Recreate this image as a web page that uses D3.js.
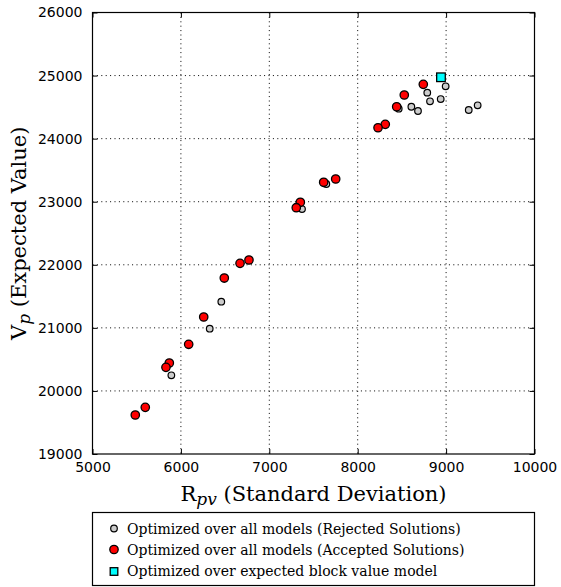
<!DOCTYPE html>
<html>
<head>
<meta charset="utf-8">
<script src="https://cdn.jsdelivr.net/npm/d3@7"></script>
<style>
  body { margin: 0; background: #fff; }
  svg { display: block; }
</style>
</head>
<body>
<svg id="chart" width="561" height="587"></svg>
<script>
// ---- data ----
const rejectedX = [8464, 8607, 8682, 8787, 8818, 8939, 8995, 9256, 9357, 7645, 7370, 6457, 6326, 5892];
const rejectedY = [24475, 24506, 24438, 24729, 24592, 24628, 24830, 24454, 24529, 23281, 22884, 21415, 20987, 20248];

const acceptedX = [8742, 8527, 8441, 8312, 8230, 7751, 7615, 7351, 7305, 6770, 6669, 6491, 6258, 6088, 5869, 5831, 5597, 5484];
const acceptedY = [24861, 24692, 24506, 24227, 24173, 23360, 23308, 22991, 22905, 22076, 22023, 21790, 21172, 20739, 20443, 20374, 19740, 19618];

const blockX = [8942];
const blockY = [24973];

const xTicks = [5000, 6000, 7000, 8000, 9000, 10000];
const yTicks = [19000, 20000, 21000, 22000, 23000, 24000, 25000, 26000];

const legendLabels = [
  "Optimized over all models (Rejected Solutions)",
  "Optimized over all models (Accepted Solutions)",
  "Optimized over expected block value model"
];

// ---- layout ----
const svg = d3.select("#chart");
const L = 92.5, R = 534.5, T = 12.5, B = 454;
const x = d3.scaleLinear().domain([5000, 10000]).range([L, R]);
const y = d3.scaleLinear().domain([19000, 26000]).range([B, T]);

const tickFont = "'DejaVu Sans', sans-serif";
const serif = "'DejaVu Serif', 'Liberation Serif', serif";

// grid
const grid = svg.append("g");
grid.selectAll("line.gx").data(xTicks.slice(1, -1)).enter().append("line")
  .attr("x1", d => x(d)).attr("x2", d => x(d)).attr("y1", T).attr("y2", B)
  .attr("stroke", "#000").attr("stroke-width", 1).attr("stroke-dasharray", "1,3.4");
grid.selectAll("line.gy").data(yTicks.slice(1, -1)).enter().append("line")
  .attr("y1", d => y(d)).attr("y2", d => y(d)).attr("x1", L).attr("x2", R)
  .attr("stroke", "#000").attr("stroke-width", 1).attr("stroke-dasharray", "1,3.4");

// axes (ticks inward on all sides)
const tickLen = 5;
const axB = svg.append("g").attr("transform", `translate(0,${B})`)
  .call(d3.axisBottom(x).tickValues(xTicks).tickFormat(d3.format("d")).tickSizeInner(-tickLen).tickSizeOuter(0).tickPadding(8));
const axL = svg.append("g").attr("transform", `translate(${L},0)`)
  .call(d3.axisLeft(y).tickValues(yTicks).tickFormat(d3.format("d")).tickSizeInner(-tickLen).tickSizeOuter(0).tickPadding(10));
const axT = svg.append("g").attr("transform", `translate(0,${T})`)
  .call(d3.axisTop(x).tickValues(xTicks).tickFormat("").tickSizeInner(-tickLen).tickSizeOuter(0));
const axR = svg.append("g").attr("transform", `translate(${R},0)`)
  .call(d3.axisRight(y).tickValues(yTicks).tickFormat("").tickSizeInner(-tickLen).tickSizeOuter(0));
[axB, axL, axT, axR].forEach(a => {
  a.select(".domain").remove();
  a.selectAll(".tick line").attr("stroke", "#000").attr("stroke-width", 1);
  a.selectAll(".tick text").attr("font-family", tickFont).attr("font-size", 14).attr("fill", "#000");
});

// frame
svg.append("rect").attr("x", L).attr("y", T).attr("width", R - L).attr("height", B - T)
  .attr("fill", "none").attr("stroke", "#000").attr("stroke-width", 1.2);

// points
const pts = svg.append("g");
pts.selectAll("circle.rej").data(rejectedX.map((v, i) => [v, rejectedY[i]])).enter().append("circle")
  .attr("cx", d => x(d[0])).attr("cy", d => y(d[1])).attr("r", 3.3)
  .attr("fill", "#cccccc").attr("stroke", "#000").attr("stroke-width", 1.2);
pts.selectAll("circle.acc").data(acceptedX.map((v, i) => [v, acceptedY[i]])).enter().append("circle")
  .attr("cx", d => x(d[0])).attr("cy", d => y(d[1])).attr("r", 4.2)
  .attr("fill", "#ff0000").attr("stroke", "#000").attr("stroke-width", 1.3);
const sq = 8.6;
pts.selectAll("rect.blk").data(blockX.map((v, i) => [v, blockY[i]])).enter().append("rect")
  .attr("x", d => x(d[0]) - sq / 2).attr("y", d => y(d[1]) - sq / 2)
  .attr("width", sq).attr("height", sq)
  .attr("fill", "#00ffff").attr("stroke", "#000").attr("stroke-width", 1.3);

// axis labels
const xl = svg.append("text").attr("x", (L + R) / 2).attr("y", 501)
  .attr("text-anchor", "middle").attr("font-family", serif).attr("font-size", 21).attr("fill", "#000");
xl.append("tspan").text("R");
xl.append("tspan").attr("font-style", "italic").attr("font-size", 17).attr("dy", 4).text("pv");
xl.append("tspan").attr("dy", -4).text(" (Standard Deviation)");

const yl = svg.append("text").attr("transform", `translate(26,${(T + B) / 2}) rotate(-90)`)
  .attr("text-anchor", "middle").attr("font-family", serif).attr("font-size", 21).attr("fill", "#000");
yl.append("tspan").text("V");
yl.append("tspan").attr("font-style", "italic").attr("font-size", 17).attr("dy", 4).text("p");
yl.append("tspan").attr("dy", -4).text(" (Expected Value)");

// legend
const lg = svg.append("g");
lg.append("rect").attr("x", 92.5).attr("y", 512.5).attr("width", 442).attr("height", 73)
  .attr("fill", "#fff").attr("stroke", "#000").attr("stroke-width", 1.2);
const rowY = [528.5, 549.5, 571];
const mx = 114;
lg.append("circle").attr("cx", mx).attr("cy", rowY[0]).attr("r", 3.3)
  .attr("fill", "#cccccc").attr("stroke", "#000").attr("stroke-width", 1.2);
lg.append("circle").attr("cx", mx).attr("cy", rowY[1]).attr("r", 4.2)
  .attr("fill", "#ff0000").attr("stroke", "#000").attr("stroke-width", 1.3);
lg.append("rect").attr("x", mx - 3.8).attr("y", rowY[2] - 3.3).attr("width", 7.6).attr("height", 7.6)
  .attr("fill", "#00ffff").attr("stroke", "#000").attr("stroke-width", 1.3);
lg.selectAll("text.lt").data(legendLabels).enter().append("text")
  .attr("x", 127).attr("y", (d, i) => rowY[i] + 5)
  .attr("font-family", serif).attr("font-size", 14).attr("fill", "#000")
  .text(d => d);
</script>
</body>
</html>
